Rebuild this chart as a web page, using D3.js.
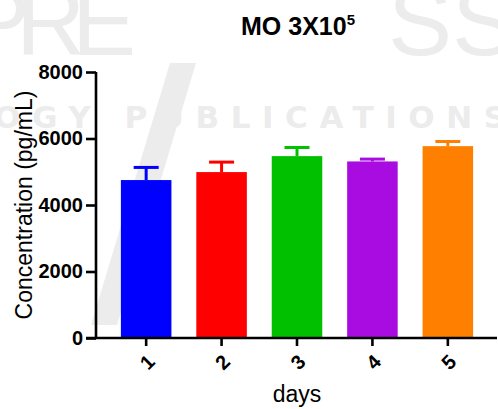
<!DOCTYPE html>
<html>
<head>
<meta charset="utf-8">
<script src="https://cdn.jsdelivr.net/npm/d3@7"></script>
<style>
  body { margin: 0; background: #fff; }
  svg { display: block; font-family: Arial, "Liberation Sans", sans-serif; }
</style>
</head>
<body>
<div id="chart"></div>
<script>
// values
const days = ["1", "2", "3", "4", "5"];
const means = [4750, 4990, 5470, 5310, 5770];
const errors = [380, 300, 260, 70, 140];
const barColors = ["#0000ff", "#ff0000", "#00c000", "#a80ce0", "#ff8000"];
const yTicks = [0, 2000, 4000, 6000, 8000];

const width = 498, height = 409;
const margin = {top: 72, right: 0, bottom: 71, left: 96};

const svg = d3.select("#chart")
    .append("svg")
    .attr("width", width)
    .attr("height", height);

// faint publisher watermark behind the chart
const wm = svg.append("g").attr("fill", "#ececec");
wm.append("text").attr("y", 55).attr("font-size", 96)
    .attr("x", "-34 16 72 388 452").text("PRESS");
wm.append("text").attr("x", -6).attr("y", 128).attr("font-size", 31)
    .attr("font-weight", "bold")
    .attr("font-family", "'DejaVu Sans', sans-serif")
    .attr("textLength", 512).attr("lengthAdjust", "spacing")
    .text("OGY PUBLICATIONS");
wm.append("path").attr("d", "M170,63L196,63L117,325L91,325Z");

const x = d3.scaleBand()
    .domain(days)
    .range([margin.left, width])
    .paddingInner(0.33)
    .paddingOuter(0.33);

const y = d3.scaleLinear()
    .domain([0, 8000])
    .range([height - margin.bottom, margin.top]);

const data = days.map((d, i) => ({day: d, mean: means[i], err: errors[i], color: barColors[i]}));

// bars
svg.selectAll(".bar")
    .data(data)
    .enter().append("rect")
    .attr("class", "bar")
    .attr("x", d => x(d.day))
    .attr("width", x.bandwidth())
    .attr("y", d => y(d.mean))
    .attr("height", d => y(0) - y(d.mean))
    .attr("fill", d => d.color);

// upper error bars
const eb = svg.selectAll(".err")
    .data(data)
    .enter().append("g")
    .attr("class", "err")
    .attr("stroke", d => d.color)
    .attr("stroke-width", 3);
eb.append("line")
    .attr("x1", d => x(d.day) + x.bandwidth() / 2)
    .attr("x2", d => x(d.day) + x.bandwidth() / 2)
    .attr("y1", d => y(d.mean))
    .attr("y2", d => y(d.mean + d.err));
eb.append("line")
    .attr("x1", d => x(d.day) + x.bandwidth() / 2 - 12.5)
    .attr("x2", d => x(d.day) + x.bandwidth() / 2 + 12.5)
    .attr("y1", d => y(d.mean + d.err))
    .attr("y2", d => y(d.mean + d.err));

// y axis
const yAxis = svg.append("g")
    .attr("transform", `translate(${margin.left},0)`)
    .call(d3.axisLeft(y).tickValues(yTicks).tickFormat(d3.format("d")).tickSize(10).tickPadding(3));

// x axis
const xAxis = svg.append("g")
    .attr("transform", `translate(0,${y(0)})`)
    .call(d3.axisBottom(x).tickSize(8).tickPadding(8));

[yAxis, xAxis].forEach(g => {
    g.selectAll("path, line").attr("stroke", "#000").attr("stroke-width", 2.6);
    g.selectAll("text").attr("fill", "#000").attr("font-size", 20).attr("font-weight", "bold")
        .attr("font-family", "Arial, 'Liberation Sans', sans-serif");
});
yAxis.select(".domain").attr("d", `M0,${y(8000)}V${y(0)}`);
xAxis.select(".domain").attr("d", `M${margin.left - 10},0H${width - 1}`);

xAxis.selectAll("text")
    .attr("text-anchor", "middle")
    .attr("dy", null)
    .attr("y", 0)
    .attr("transform", "translate(1,24) rotate(-45)")
    .attr("dominant-baseline", "central");

// title with superscript
const title = svg.append("text")
    .attr("x", 298)
    .attr("y", 35)
    .attr("text-anchor", "middle")
    .attr("font-size", 25)
    .attr("font-weight", "bold");
title.append("tspan").text("MO 3X10");
title.append("tspan").attr("font-size", 15).attr("dy", -10).text("5");

// axis titles
svg.append("text")
    .attr("x", 297)
    .attr("y", 402)
    .attr("text-anchor", "middle")
    .attr("font-size", 23)
    .text("days");

svg.append("text")
    .attr("transform", `translate(32,${(y(0) + y(8000)) / 2}) rotate(-90)`)
    .attr("text-anchor", "middle")
    .attr("font-size", 23)
    .text("Concentration (pg/mL)");
</script>
</body>
</html>
